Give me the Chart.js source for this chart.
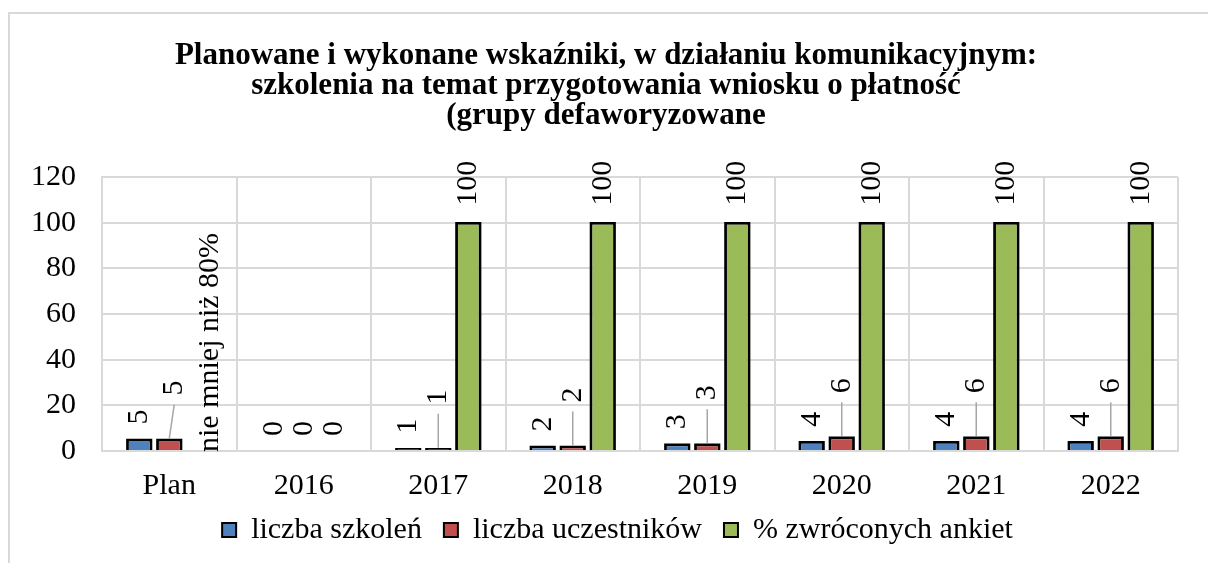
<!DOCTYPE html>
<html>
<head>
<meta charset="utf-8">
<title>Wskaźniki - szkolenia</title>
<script src="https://cdn.jsdelivr.net/npm/chart.js@4.4.0/dist/chart.umd.min.js"></script>
<style>
  html, body { margin: 0; padding: 0; background: #fff; }
  #wrap { width: 1208px; height: 563px; position: relative; }
</style>
</head>
<body>
<div id="wrap"><canvas id="chart"></canvas></div>
<script>
    const titleLines = [
        'Planowane i wykonane wskaźniki, w działaniu komunikacyjnym:',
        'szkolenia na temat przygotowania wniosku o płatność',
        '(grupy defaworyzowane'
    ];
    const categories = ['Plan', '2016', '2017', '2018', '2019', '2020', '2021', '2022'];
    const seriesNames = ['liczba szkoleń', 'liczba uczestników', '% zwróconych ankiet'];
    const szkolenia = [5, 0, 1, 2, 3, 4, 4, 4];
    const uczestnicy = [5, 0, 1, 2, 3, 6, 6, 6];
    const ankiety = [null, 0, 100, 100, 100, 100, 100, 100];
    const ankietyPlanText = 'nie mniej niż 80%';
    const yTicks = [0, 20, 40, 60, 80, 100, 120];

    const serif = '"Liberation Serif", "Times New Roman", serif';
    const gridGray = '#d9d9d9';

    // light frame of the chart object (only top + left edge are in view)
    const frame = {
        id: 'frame',
        beforeDraw(chart) {
            const ctx = chart.ctx;
            ctx.save();
            ctx.strokeStyle = gridGray;
            ctx.lineWidth = 2;
            ctx.beginPath();
            ctx.moveTo(9, chart.height);
            ctx.lineTo(9, 13);
            ctx.lineTo(chart.width, 13);
            ctx.stroke();
            ctx.restore();
        },
        afterLayout(chart) {
            // title and legend are centred on the whole frame in the original
            chart.titleBlock.left += 34;
            chart.legend.left += 57;
            chart.legend.top -= 8;
            chart.legend.bottom -= 8;
        }
    };

    // outline bars so tiny values still show as black strips
    const barOutline = {
        id: 'barOutline',
        afterDatasetsDraw(chart) {
            const ctx = chart.ctx;
            ctx.save();
            ctx.strokeStyle = '#000';
            ctx.lineWidth = 1.5;
            chart.data.datasets.forEach((ds, di) => {
                chart.getDatasetMeta(di).data.forEach((bar, i) => {
                    if (!ds.data[i]) return;
                    const p = bar.getProps(['x', 'y', 'width', 'base'], true);
                    const l = p.x - p.width / 2, r = p.x + p.width / 2;
                    ctx.beginPath();
                    ctx.moveTo(l, p.base);
                    ctx.lineTo(l, p.y);
                    ctx.lineTo(r, p.y);
                    ctx.lineTo(r, p.base);
                    ctx.stroke();
                });
            });
            ctx.restore();
        }
    };

    // vertical value labels, red ones lifted with a leader line
    const valueLabels = {
        id: 'valueLabels',
        afterDatasetsDraw(chart) {
            const ctx = chart.ctx;
            const zero = chart.scales.y.getPixelForValue(0);
            ctx.save();
            ctx.font = '30px ' + serif;
            ctx.fillStyle = '#000';
            ctx.textBaseline = 'middle';
            ctx.textAlign = 'left';
            chart.data.datasets.forEach((ds, di) => {
                chart.getDatasetMeta(di).data.forEach((bar, i) => {
                    const v = ds.data[i];
                    let text = String(v);
                    let x = bar.x;
                    let start;
                    if (v === null) {
                        text = ankietyPlanText;
                        x = bar.x + 11;
                        start = zero + 1;
                    } else if (di === 1 && v > 0) {
                        const lean = i === 0 ? 5 : 0;
                        start = bar.y - 44;
                        ctx.save();
                        ctx.strokeStyle = '#a6a6a6';
                        ctx.lineWidth = 1.5;
                        ctx.beginPath();
                        ctx.moveTo(x, bar.y - 1);
                        ctx.lineTo(x + lean, bar.y - 35);
                        ctx.stroke();
                        ctx.restore();
                        x += lean;
                    } else if (di === 2 && v > 0) {
                        start = bar.y - 17;
                    } else {
                        start = bar.y - 15;
                    }
                    ctx.save();
                    ctx.translate(x, start);
                    ctx.rotate(-Math.PI / 2);
                    ctx.fillText(text, 0, 0);
                    ctx.restore();
                });
            });
            ctx.restore();
        }
    };

    const data = {
        labels: categories,
        datasets: [{
            label: seriesNames[0],
            data: szkolenia,
            backgroundColor: '#4F81BD'
        }, {
            label: seriesNames[1],
            data: uczestnicy,
            backgroundColor: '#C0504D'
        }, {
            label: seriesNames[2],
            data: ankiety,
            backgroundColor: '#9BBB59'
        }].map(d => Object.assign(d, {
            borderColor: '#000',
            borderWidth: 2,
            categoryPercentage: 0.67,
            barPercentage: 0.82
        }))
    };

    const config = {
        type: 'bar',
        data: data,
        options: {
            responsive: true,
            maintainAspectRatio: false,
            animation: false,
            layout: {
                padding: { left: 0, right: 30, top: 0, bottom: 0 }
            },
            scales: {
                x: {
                    afterFit: s => { s.height = 50; },
                    grid: { color: gridGray, lineWidth: 2, drawTicks: false },
                    border: { color: gridGray, width: 2 },
                    ticks: { color: '#000', font: { family: serif, size: 30, lineHeight: 1 }, padding: 20 }
                },
                y: {
                    min: 0,
                    max: 120,
                    afterFit: s => { s.width = 102; },
                    afterBuildTicks: s => { s.ticks = yTicks.map(v => ({ value: v })); },
                    grid: { color: gridGray, lineWidth: 2, drawTicks: false },
                    border: { color: gridGray, width: 2 },
                    ticks: { color: '#000', font: { family: serif, size: 30 }, padding: 26 }
                }
            },
            plugins: {
                title: {
                    display: true,
                    text: titleLines,
                    color: '#000',
                    font: { family: serif, size: 31, weight: 'bold', lineHeight: 0.968 },
                    padding: { top: 41, bottom: 46 }
                },
                legend: {
                    position: 'bottom',
                    labels: {
                        color: '#000',
                        font: { family: serif, size: 30 },
                        boxWidth: 14,
                        boxHeight: 14,
                        padding: 22
                    }
                },
                tooltip: { enabled: false }
            }
        },
        plugins: [frame, barOutline, valueLabels]
    };

    var chartWskazniki = new Chart(document.getElementById('chart'), config);
</script>
</body>
</html>
